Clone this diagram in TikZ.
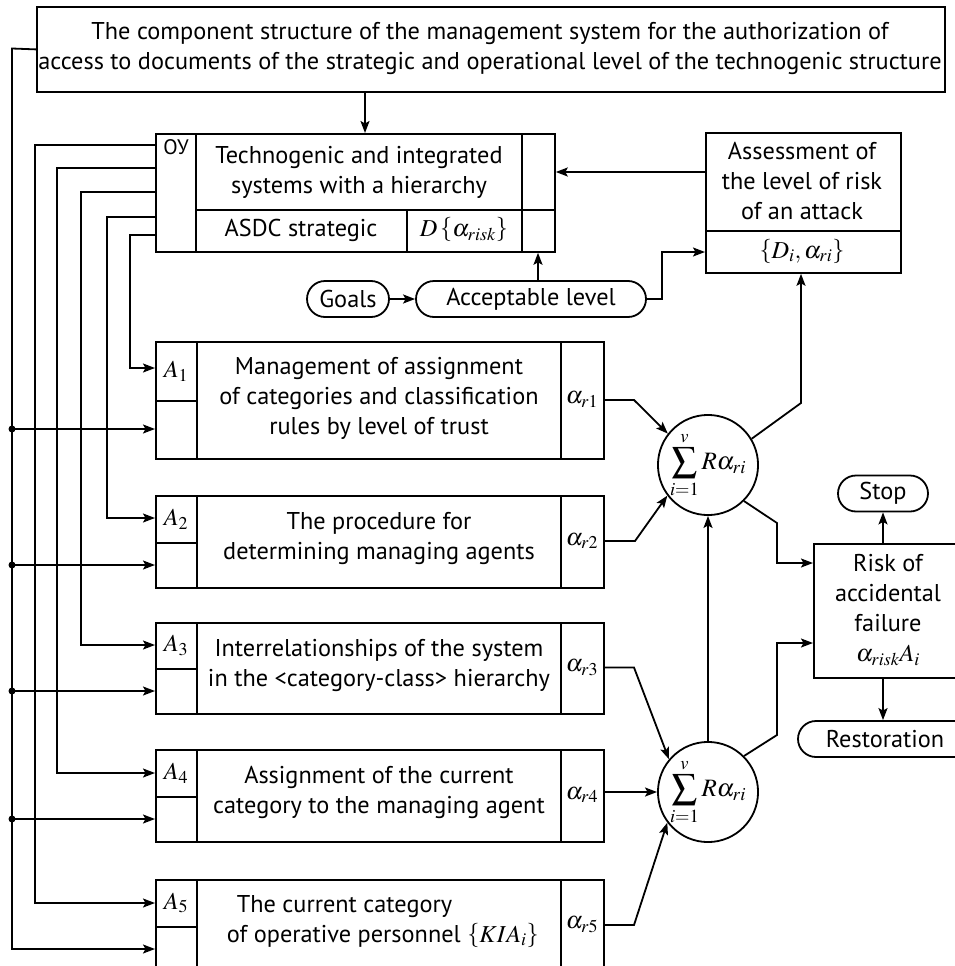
\documentclass[tikz,border=0pt]{standalone}
\usepackage{mathptmx}
\usepackage[no-math]{fontspec}
\setmainfont{PT Sans}
\usetikzlibrary{arrows.meta,calc}
\begin{document}
\begin{tikzpicture}[x=1pt,y=-1pt,
  line width=1.8pt,
  font=\fontsize{24.3}{30}\selectfont,
  arr/.style={-{Stealth[length=12pt,width=9pt,inset=2.5pt]}},
  frame/.style={draw,rectangle,inner sep=0pt,anchor=north west},
  txt/.style={inner sep=0pt,align=center},
  term/.style={draw,rectangle,rounded corners=18pt,minimum height=36pt,inner sep=0pt},
  sumnode/.style={draw,circle,minimum size=100pt,inner sep=0pt,font=\fontsize{25}{28}\selectfont},
  dot/.style={fill,circle,inner sep=0pt,minimum size=7pt}
]
\useasboundingbox (0,0) rectangle (955,966);
\clip (0,0) rectangle (955,966);

% ---------- top box
\node[frame,minimum width=908pt,minimum height=85pt] (top) at (36,6) {};
\node[txt] (toptext) at (490,48.5) {The component structure of the management system for the authorization of\\access to documents of the strategic and operational level of the technogenic structure};

% ---------- OY box
\node[frame,minimum width=399pt,minimum height=118pt] (oy) at (155,133) {};
\draw (196,133) -- (196,251);
\draw (196,210) -- (554,210);
\draw (407,210) -- (407,251);
\draw (522,133) -- (522,251);
\node[txt,font=\fontsize{21}{24}\selectfont] (oylab) at (176,147) {ОУ};
\node[txt] (oytext) at (359,172) {Technogenic and integrated\\systems with a hierarchy};
\node[txt] (asdc) at (301,230) {ASDC strategic};
\node[txt] (drisk) at (464,230) {$D\left\{\alpha_{risk}\right\}$};

% ---------- assessment box
\node[frame,minimum width=195pt,minimum height=140pt] (assess) at (705,132) {};
\draw (705,231) -- (900,231);
\node[txt] (asstext) at (802,181) {Assessment of\\the level of risk\\of an attack};
\node[txt] (dri) at (802,252) {$\left\{D_{i},\alpha_{ri}\right\}$};

% ---------- goals / acceptable level
\node[term,minimum width=82pt] (goals) at (348,299) {Goals};
\node[term,minimum width=230pt] (accept) at (531,299) {Acceptable level};

% ---------- A boxes
\node[frame,minimum width=448pt,minimum height=117pt] (a1) at (155,341) {};
\draw (197,341) -- (197,458); \draw (561,341) -- (561,458); \draw (155,401) -- (197,401);
\node[txt] (a1lab) at (176,371) {$A_{1}$};
\node[txt] (a1text) at (379,398) {Management of assignment\\of categories and classification\\rules by level of trust};
\node[txt] (r1) at (582,399.5) {$\alpha_{r1}$};

\node[frame,minimum width=448pt,minimum height=92pt] (a2) at (155,495) {};
\draw (197,495) -- (197,587); \draw (561,495) -- (561,587); \draw (155,543) -- (197,543);
\node[txt] (a2lab) at (176,519) {$A_{2}$};
\node[txt] (a2text) at (379,538) {The procedure for\\determining managing agents};
\node[txt] (r2) at (582,541) {$\alpha_{r2}$};

\node[frame,minimum width=448pt,minimum height=91pt] (a3) at (155,622) {};
\draw (197,622) -- (197,713); \draw (561,622) -- (561,713); \draw (155,669) -- (197,669);
\node[txt] (a3lab) at (176,645.5) {$A_{3}$};
\node[txt] (a3text) at (379,665) {Interrelationships of the system\\in the <category-class> hierarchy};
\node[txt] (r3) at (582,667.5) {$\alpha_{r3}$};

\node[frame,minimum width=448pt,minimum height=92pt] (a4) at (155,749) {};
\draw (197,749) -- (197,841); \draw (561,749) -- (561,841); \draw (155,797) -- (197,797);
\node[txt] (a4lab) at (176,773) {$A_{4}$};
\node[txt] (a4text) at (379,792) {Assignment of the current\\category to the managing agent};
\node[txt] (r4) at (582,795) {$\alpha_{r4}$};

\node[frame,minimum width=448pt,minimum height=92pt] (a5) at (155,879) {};
\draw (197,879) -- (197,971); \draw (561,879) -- (561,971); \draw (155,927) -- (197,927);
\node[txt] (a5lab) at (176,903) {$A_{5}$};
\node[txt,align=left,anchor=west] (a5text) at (226,921.5) {\hspace*{10pt}The current category\\of operative personnel $\left\{KIA_{i}\right\}$};
\node[txt] (r5) at (582,925) {$\alpha_{r5}$};

% ---------- sums
\node[sumnode] (s1) at (708,465) {$\displaystyle\sum_{i=1}^{v}R\alpha_{ri}$};
\node[sumnode] (s2) at (708,792) {$\displaystyle\sum_{i=1}^{v}R\alpha_{ri}$};

% ---------- risk, stop, restoration
\node[frame,minimum width=150pt,minimum height=134pt] (risk) at (813,543) {};
\node[txt] (risktext) at (888,610) {Risk of\\accidental\\failure\\$\alpha_{risk}A_{i}$};
\node[term,minimum width=90pt] (stop) at (883,493.5) {Stop};
\node[term,minimum width=174pt] (resto) at (885,739) {Restoration};

% ---------- connectors: top
\draw[arr] (top.south -| 365,0) -- (oy.north -| 365,0);
\draw[arr] (assess.west |- 0,172) -- (oy.east |- 0,172);
\draw[arr] (goals.east) -- (accept.west);
\draw[arr] (accept.north -| 538,0) -- (oy.south -| 538,0);
\draw[arr] (accept.east) -- (662,299) -- (662,252) -- (assess.west |- 0,252);

% ---------- left wiring
\draw[arr] (top.west) -- (12,48.5) -- (12,949) -- (a5.west |- 0,949);
\foreach \y/\n in {429/a1,565/a2,691/a3,819/a4}{
  \node[dot] at (12,\y) {};
  \draw[arr] (12,\y) -- (\n.west |- 0,\y);
}
\draw[arr] (oy.west |- 0,145) -- (35,145) -- (35,903) -- (a5.west |- 0,903);
\draw[arr] (oy.west |- 0,168) -- (57,168) -- (57,773) -- (a4.west |- 0,773);
\draw[arr] (oy.west |- 0,192) -- (81,192) -- (81,645) -- (a3.west |- 0,645);
\draw[arr] (oy.west |- 0,217) -- (107,217) -- (107,518) -- (a2.west |- 0,518);
\draw[arr] (oy.west |- 0,235) -- (130,235) -- (130,368) -- (a1.west |- 0,368);

% ---------- alpha to sums
\draw[arr] (a1.east |- 0,400) -- (634,400) -- (s1.142);
\draw[arr] (a2.east |- 0,541) -- (635,541) -- (s1.217);
\draw[arr] (a3.east |- 0,667.5) -- (634,667.5) -- (s2.140);
\draw[arr] (a4.east |- s2.west) -- (s2.west);
\draw[arr] (a5.east |- 0,925) -- (634,925) -- (s2.217);

% ---------- sums outputs
\draw[arr] (s2.north) -- (s1.south);
\draw[arr] (s1.31) -- (801,403) -- (assess.south -| 801,0);
\draw[arr] (s1.-45) -- (777,523) -- (777,563) -- (risk.west |- 0,563);
\draw[arr] (s2.45) -- (777,735) -- (777,643) -- (risk.west |- 0,643);
\draw[arr] (risk.north -| stop.south) -- (stop.south);
\draw[arr] (risk.south -| 883,0) -- (resto.north -| 883,0);
\end{tikzpicture}
\end{document}
